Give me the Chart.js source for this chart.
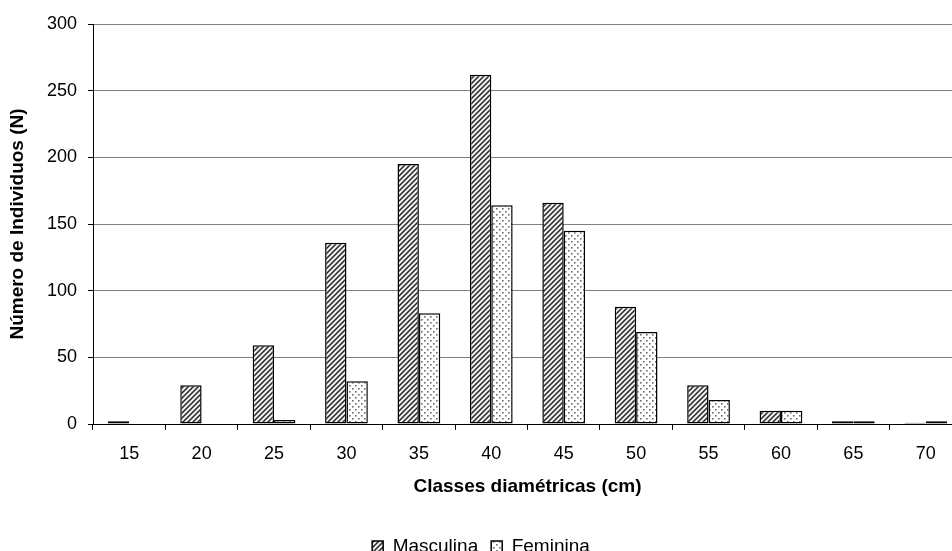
<!DOCTYPE html>
<html>
<head>
<meta charset="utf-8">
<style>
  html, body { margin: 0; padding: 0; background: #fff; overflow: hidden; }
  #wrap { width: 962px; height: 566px; }
</style>
<script src="https://cdn.jsdelivr.net/npm/chart.js@4.4.9/dist/chart.umd.min.js"></script>
</head>
<body>
<div id="wrap"><canvas id="chart"></canvas></div>
<script>
// dados
const classes = ['15', '20', '25', '30', '35', '40', '45', '50', '55', '60', '65', '70'];
const masculina = [2, 29, 59, 136, 195, 262, 166, 88, 29, 10, 2, 1];
const feminina = [0, 0, 3, 32, 83, 164, 145, 69, 18, 10, 2, 2];

// padrão de listras diagonais
function hatchPattern() {
    const c = document.createElement('canvas');
    c.width = 5; c.height = 5;
    const g = c.getContext('2d');
    g.fillStyle = '#efefef';
    g.fillRect(0, 0, 5, 5);
    g.strokeStyle = '#262626';
    g.lineWidth = 1.5;
    g.beginPath();
    g.moveTo(-1, 6); g.lineTo(6, -1);
    g.moveTo(-1, 1); g.lineTo(1, -1);
    g.moveTo(4, 6); g.lineTo(6, 4);
    g.stroke();
    return g.createPattern(c, 'repeat');
}

// padrão pontilhado
function dotPattern() {
    const c = document.createElement('canvas');
    c.width = 6; c.height = 6;
    const g = c.getContext('2d');
    g.fillStyle = '#ffffff';
    g.fillRect(0, 0, 6, 6);
    g.fillStyle = '#6e6e6e';
    g.fillRect(1, 1, 1.6, 1.6);
    g.fillRect(4, 4, 1.6, 1.6);
    return g.createPattern(c, 'repeat');
}

Chart.defaults.font.family = '"Liberation Sans", Arial, sans-serif';
Chart.defaults.font.size = 18;
Chart.defaults.color = '#000';

const ctx = document.getElementById('chart').getContext('2d');

new Chart(ctx, {
    type: 'bar',
    data: {
        labels: classes,
        datasets: [{
            label: 'Masculina',
            data: masculina,
            backgroundColor: hatchPattern(),
            borderColor: '#000',
            borderWidth: 1.5,
            borderSkipped: false
        }, {
            label: 'Feminina',
            data: feminina,
            backgroundColor: dotPattern(),
            borderColor: '#000',
            borderWidth: 1.5,
            borderSkipped: false
        }]
    },
    options: {
        responsive: true,
        maintainAspectRatio: false,
        animation: false,
        layout: { padding: { top: 24, right: 0, left: 0, bottom: 0 } },
        datasets: { bar: { categoryPercentage: 0.59, barPercentage: 1 } },
        plugins: {
            tooltip: { enabled: false },
            legend: {
                position: 'bottom',
                labels: {
                    boxWidth: 11,
                    boxHeight: 11,
                    padding: 13,
                    font: { size: 19 },
                    color: '#000'
                }
            }
        },
        scales: {
            x: {
                afterFit: s => { s.height = 100; },
                grid: {
                    drawOnChartArea: false,
                    drawTicks: true,
                    tickLength: 6,
                    tickColor: '#000',
                    offset: true
                },
                border: { color: '#000', width: 1 },
                ticks: { padding: 13, font: { size: 18 }, color: '#000' },
                title: {
                    display: true,
                    text: 'Classes diamétricas (cm)',
                    font: { size: 19, weight: 'bold' },
                    color: '#000',
                    padding: { top: 0, bottom: 25.5 }
                }
            },
            y: {
                min: 0,
                max: 300,
                afterFit: s => { s.width = 93; },
                grid: {
                    color: '#808080',
                    lineWidth: 1,
                    tickLength: 5,
                    tickColor: '#000'
                },
                border: { color: '#000', width: 1 },
                ticks: { stepSize: 50, padding: 11, font: { size: 18 }, color: '#000' },
                title: {
                    display: true,
                    text: 'Número de Individuos (N)',
                    font: { size: 19, weight: 'bold' },
                    color: '#000',
                    padding: { top: 6.5, bottom: 0 }
                }
            }
        }
    }
});
</script>
</body>
</html>
